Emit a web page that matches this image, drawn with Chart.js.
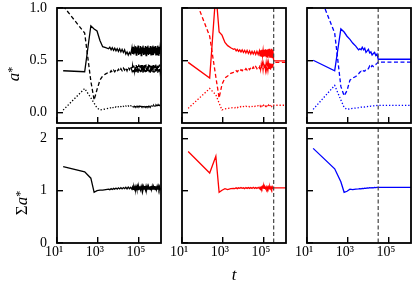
<!DOCTYPE html>
<html>
<head>
<meta charset="utf-8">
<script src="https://cdn.jsdelivr.net/npm/chart.js@4.4.0/dist/chart.umd.min.js"></script>
<style>
  html, body { margin: 0; padding: 0; background: #fff; }
  #fig { position: relative; width: 415px; height: 295px; }
  #fig canvas { position: absolute; left: 0; top: 0; }
</style>
</head>
<body>
<div id="fig">
  <canvas id="p0" width="415" height="295"></canvas>
  <canvas id="p1" width="415" height="295"></canvas>
  <canvas id="p2" width="415" height="295"></canvas>
  <canvas id="p3" width="415" height="295"></canvas>
  <canvas id="p4" width="415" height="295"></canvas>
  <canvas id="p5" width="415" height="295"></canvas>
</div>
<script>
// time axis (log) ticks
const xTickVals = [10, 1000, 100000];
const xTickLabels = ['10¹', '10³', '10⁵'];
const xMin = 10, xMax = 1200000;

// y ticks: top row a*, bottom row Σa*
const yTickVals = [[0, 0.5, 1.0], [0, 1, 2]];
const yTickLabels = [['0.0', '0.5', '1.0'], ['0', '1', '2']];
const yRange = [[-0.1, 1.0], [0, 2.2]];

// where the red / blue runs are frozen
const cutT = [null, 300000, 30000];

// black run
const tBlack = [20, 225, 450, 650, 900, 1250, 1700, 2400, 3300,
  3800, 4400, 5000, 5800, 6600, 7600, 8700, 10000, 11500, 13200, 15100, 17400, 20000,
  22900, 26300, 30200, 34700, 39800,
  45700, 49000, 52500, 56200, 60300, 64600, 69200, 74100,
  79400, 85100, 91200, 97700, 105000, 112000, 120000, 129000,
  138000, 148000, 158000, 170000, 182000, 195000, 209000, 224000,
  240000, 257000, 275000, 295000, 316000, 339000, 363000, 389000,
  417000, 447000, 479000, 513000, 550000, 589000, 631000, 676000,
  724000, 776000, 832000, 891000, 955000, 1020000, 1100000, 1200000];
const blackSolid = [0.40, 0.39, 0.83, 0.80, 0.78, 0.69, 0.63, 0.62, 0.61,
  0.625, 0.60, 0.62, 0.595, 0.615, 0.59, 0.61, 0.585, 0.61, 0.58, 0.605, 0.575, 0.60,
  0.56, 0.58, 0.55, 0.575, 0.555,
  0.62, 0.56, 0.63, 0.555, 0.61, 0.57, 0.635, 0.55,
  0.625, 0.565, 0.64, 0.55, 0.615, 0.56, 0.635, 0.545,
  0.625, 0.57, 0.64, 0.55, 0.62, 0.555, 0.635, 0.545,
  0.63, 0.565, 0.64, 0.55, 0.62, 0.56, 0.635, 0.545,
  0.625, 0.555, 0.64, 0.55, 0.63, 0.565, 0.635, 0.545,
  0.62, 0.555, 0.64, 0.55, 0.63, 0.56, 0.635, 0.60];
const blackDashed = [1.02, 0.76, 0.30, 0.12, 0.22, 0.31, 0.35, 0.37, 0.385,
  0.38, 0.40, 0.385, 0.405, 0.39, 0.41, 0.395, 0.415, 0.395, 0.42, 0.40, 0.425, 0.405,
  0.43, 0.40, 0.435, 0.41, 0.44,
  0.40, 0.445, 0.385, 0.45, 0.395, 0.44, 0.38, 0.455,
  0.39, 0.445, 0.38, 0.46, 0.395, 0.45, 0.385, 0.455,
  0.39, 0.46, 0.38, 0.45, 0.39, 0.455, 0.385, 0.46,
  0.38, 0.45, 0.39, 0.46, 0.385, 0.455, 0.38, 0.45,
  0.39, 0.46, 0.385, 0.455, 0.38, 0.45, 0.39, 0.46,
  0.385, 0.455, 0.38, 0.45, 0.39, 0.46, 0.385, 0.42];
const blackDotted = [0.024, 0.23, 0.14, 0.09, 0.045, 0.025, 0.03, 0.035, 0.04,
  0.04, 0.05, 0.042, 0.052, 0.045, 0.054, 0.047, 0.056, 0.049, 0.058, 0.05, 0.06, 0.052,
  0.062, 0.053, 0.063, 0.054, 0.064,
  0.058, 0.066, 0.055, 0.068, 0.057, 0.07, 0.054, 0.067,
  0.056, 0.069, 0.054, 0.07, 0.057, 0.068, 0.053, 0.07,
  0.055, 0.069, 0.054, 0.071, 0.056, 0.068, 0.054, 0.07,
  0.055, 0.069, 0.053, 0.07, 0.056, 0.068, 0.054, 0.071,
  0.055, 0.069, 0.054, 0.07, 0.056, 0.068, 0.053, 0.07,
  0.055, 0.069, 0.054, 0.071, 0.056, 0.068, 0.055, 0.062];
const blackSum = [1.46, 1.36, 1.24, 0.97, 1.00, 1.01, 1.01, 1.02, 1.03,
  1.02, 1.04, 1.025, 1.045, 1.03, 1.05, 1.03, 1.055, 1.035, 1.06, 1.035, 1.06, 1.04,
  1.065, 1.035, 1.07, 1.04, 1.065,
  1.03, 1.07, 1.025, 1.075, 1.03, 1.08, 1.02, 1.075,
  1.025, 1.085, 1.02, 1.08, 1.03, 1.085, 1.02, 1.08,
  1.025, 1.085, 1.02, 1.08, 1.03, 1.09, 1.02, 1.085,
  1.025, 1.08, 1.02, 1.085, 1.03, 1.08, 1.02, 1.09,
  1.025, 1.085, 1.02, 1.08, 1.03, 1.09, 1.02, 1.085,
  1.025, 1.08, 1.02, 1.085, 1.03, 1.08, 1.025, 1.05];

// red run
const tRed = [20, 225, 450, 650, 900, 1250, 1700, 2400, 3300,
  3800, 4400, 5000, 5800, 6600, 7600, 8700, 10000, 11500, 13200, 15100, 17400, 20000, 22900, 26300, 30200, 34700, 39800, 45700, 52500,
  60300, 64600, 69200, 74100, 79400, 85100, 91200, 97700,
  105000, 112000, 120000, 129000, 138000, 148000, 158000, 170000,
  182000, 195000, 209000, 224000, 240000, 257000, 275000,
  300000, 1200000];
const redSolid = [0.48, 0.33, 1.15, 0.77, 0.74, 0.67, 0.64, 0.62, 0.605,
  0.61, 0.59, 0.605, 0.585, 0.60, 0.58, 0.60, 0.575, 0.595, 0.57, 0.595, 0.565, 0.59, 0.56, 0.585, 0.56, 0.585, 0.555, 0.585, 0.555,
  0.59, 0.545, 0.595, 0.54, 0.60, 0.545, 0.595, 0.535,
  0.60, 0.54, 0.605, 0.535, 0.60, 0.53, 0.605, 0.54,
  0.61, 0.525, 0.60, 0.53, 0.61, 0.525, 0.60,
  0.495, 0.495];
const redDashed = [1.26, 0.73, 0.34, 0.14, 0.27, 0.33, 0.35, 0.375, 0.385,
  0.385, 0.40, 0.39, 0.405, 0.395, 0.41, 0.40, 0.415, 0.405, 0.42, 0.405, 0.425, 0.41, 0.43, 0.415, 0.435, 0.415, 0.44, 0.42, 0.44,
  0.425, 0.455, 0.415, 0.46, 0.42, 0.465, 0.41, 0.46,
  0.415, 0.465, 0.41, 0.47, 0.415, 0.465, 0.41, 0.47,
  0.415, 0.475, 0.41, 0.47, 0.415, 0.475, 0.45,
  0.48, 0.48];
const redDotted = [0.04, 0.23, 0.17, 0.09, 0.025, 0.035, 0.04, 0.045, 0.048,
  0.045, 0.053, 0.047, 0.055, 0.05, 0.057, 0.052, 0.058, 0.053, 0.06, 0.055, 0.061, 0.056, 0.062, 0.057, 0.063, 0.058, 0.064, 0.059, 0.065,
  0.06, 0.067, 0.058, 0.068, 0.06, 0.069, 0.059, 0.07,
  0.061, 0.069, 0.06, 0.071, 0.06, 0.07, 0.061, 0.071,
  0.06, 0.072, 0.061, 0.071, 0.06, 0.072, 0.066,
  0.07, 0.07];
const redSum = [1.75, 1.34, 1.66, 0.97, 1.01, 1.04, 1.02, 1.04, 1.045,
  1.04, 1.055, 1.04, 1.055, 1.045, 1.06, 1.045, 1.055, 1.04, 1.06, 1.045, 1.06, 1.045, 1.06, 1.045, 1.065, 1.045, 1.06, 1.045, 1.065,
  1.04, 1.065, 1.045, 1.07, 1.04, 1.08, 1.05, 1.09,
  1.045, 1.07, 1.04, 1.075, 1.035, 1.07, 1.04, 1.075,
  1.035, 1.08, 1.04, 1.07, 1.035, 1.075, 1.05,
  1.055, 1.055];

// blue run
const tBlue = [20, 225, 450, 650, 900, 1250, 1700, 2400, 3300,
  3800, 4400, 5000, 5800, 6600, 7600, 8700, 10000, 11500, 13200, 15100, 17400, 20000, 22900, 26300,
  30000, 1200000];
const blueSolid = [0.50, 0.40, 0.80, 0.77, 0.73, 0.70, 0.665, 0.635, 0.60,
  0.61, 0.60, 0.625, 0.60, 0.615, 0.575, 0.59, 0.605, 0.57, 0.58, 0.55, 0.565, 0.575, 0.545, 0.56,
  0.51, 0.51];
const blueDashed = [1.28, 0.76, 0.25, 0.16, 0.21, 0.31, 0.33, 0.345, 0.37,
  0.385, 0.395, 0.385, 0.40, 0.395, 0.415, 0.41, 0.42, 0.445, 0.43, 0.45, 0.44, 0.455, 0.46, 0.47,
  0.483, 0.483];
const blueDotted = [0.03, 0.26, 0.12, 0.05, 0.03, 0.035, 0.04, 0.043, 0.047,
  0.05, 0.052, 0.05, 0.055, 0.053, 0.057, 0.056, 0.06, 0.058, 0.062, 0.061, 0.064, 0.063, 0.066, 0.068,
  0.069, 0.069];
const blueSum = [1.81, 1.42, 1.17, 0.97, 0.99, 1.03, 1.02, 1.03, 1.035,
  1.04, 1.035, 1.045, 1.04, 1.05, 1.045, 1.055, 1.05, 1.06, 1.055, 1.06, 1.055, 1.065, 1.06, 1.065,
  1.065, 1.065];

// layout of the 2x3 grid (page pixels)
const figW = 415, figH = 295;
const colLeft = [57, 182, 307], plotW = 104;
const rowTop = [8, 128], plotH = 115;
const serif = '"Liberation Serif", "DejaVu Serif", serif';
const dashes = [[], [4, 2.5], [1.3, 1.9]];

const yLabels = [
  { x: 19, y: 74, parts: [
    { text: 'a', font: 'italic 17px ' + serif },
    { text: '*', font: '12px ' + serif, rise: 3 }] },
  { x: 27, y: 203, parts: [
    { text: 'Σ', font: '17px ' + serif },
    { text: 'a', font: 'italic 17px ' + serif },
    { text: '*', font: '12px ' + serif, rise: 3 }] }
];

const framePlugin = {
  id: 'frame',
  afterDraw(chart) {
    const { ctx, chartArea: a } = chart;
    ctx.save();
    ctx.strokeStyle = '#000';
    ctx.lineWidth = 1.8;
    ctx.strokeRect(a.left, a.top, a.right - a.left, a.bottom - a.top);
    ctx.restore();
  }
};

function cutLine(t) {
  return {
    id: 'cutLine',
    afterDatasetsDraw(chart) {
      if (!t) return;
      const { ctx, chartArea: a } = chart;
      const x = chart.scales.x.getPixelForValue(t);
      ctx.save();
      ctx.strokeStyle = '#444';
      ctx.lineWidth = 1.2;
      ctx.setLineDash([4, 2.5]);
      ctx.beginPath();
      ctx.moveTo(x, a.top);
      ctx.lineTo(x, a.bottom);
      ctx.stroke();
      ctx.restore();
    }
  };
}

function axisLabel(lab) {
  return {
    id: 'axisLabel',
    afterDraw(chart) {
      if (!lab) return;
      const ctx = chart.ctx;
      ctx.save();
      ctx.translate(lab.x, lab.y);
      ctx.rotate(-Math.PI / 2);
      ctx.fillStyle = '#000';
      ctx.textBaseline = 'alphabetic';
      let w = 0;
      lab.parts.forEach(p => { ctx.font = p.font; w += ctx.measureText(p.text).width; });
      let x = -w / 2;
      lab.parts.forEach(p => {
        ctx.font = p.font;
        ctx.fillText(p.text, x, -(p.rise || 0));
        x += ctx.measureText(p.text).width;
      });
      ctx.restore();
    }
  };
}

// no automatic label padding, the grid is fixed
function noPad(s) {
  s.paddingLeft = 0; s.paddingRight = 0; s.paddingTop = 0; s.paddingBottom = 0;
}

const panels = [
  { id: 'p0', row: 0, col: 0, t: tBlack, color: '#000000', series: [blackSolid, blackDashed, blackDotted] },
  { id: 'p1', row: 0, col: 1, t: tRed, color: '#ff0000', series: [redSolid, redDashed, redDotted] },
  { id: 'p2', row: 0, col: 2, t: tBlue, color: '#0000ff', series: [blueSolid, blueDashed, blueDotted] },
  { id: 'p3', row: 1, col: 0, t: tBlack, color: '#000000', series: [blackSum] },
  { id: 'p4', row: 1, col: 1, t: tRed, color: '#ff0000', series: [redSum] },
  { id: 'p5', row: 1, col: 2, t: tBlue, color: '#0000ff', series: [blueSum] }
];

panels.forEach(p => {
  const left = colLeft[p.col], top = rowTop[p.row];
  const bottomRow = p.row === 1;
  const xAxisH = bottomRow ? figH - (top + plotH) : 0;
  const yAxisW = p.col === 0 ? left : 0;

  new Chart(document.getElementById(p.id), {
    type: 'line',
    data: {
      datasets: p.series.map((vals, i) => ({
        data: vals.map((y, k) => ({ x: p.t[k], y })),
        borderColor: p.color,
        borderWidth: 1.3,
        borderDash: dashes[i],
        pointRadius: 0,
        tension: 0,
        fill: false
      }))
    },
    options: {
      responsive: false,
      animation: false,
      events: [],
      layout: { padding: {
        left: left - yAxisW, top,
        right: figW - left - plotW,
        bottom: figH - top - plotH - xAxisH } },
      plugins: { legend: { display: false }, tooltip: { enabled: false } },
      scales: {
        x: {
          type: 'logarithmic', min: xMin, max: xMax, bounds: 'data',
          afterBuildTicks: s => { s.ticks = xTickVals.map(value => ({ value })); },
          afterFit: s => { s.height = xAxisH; noPad(s); },
          ticks: {
            display: bottomRow, autoSkip: false, maxRotation: 0, padding: 7, labelOffset: -3,
            color: '#000', font: { family: serif, size: 14 },
            callback: (v, i) => xTickLabels[i]
          },
          grid: { drawOnChartArea: false, tickLength: -6, color: '#000', lineWidth: 1.4 },
          border: { display: false },
          title: {
            display: bottomRow && p.col === 1, text: 't', color: '#000',
            font: { family: serif, size: 17, style: 'italic' },
            padding: { top: 0, bottom: 9.5 }
          }
        },
        y: {
          min: yRange[p.row][0], max: yRange[p.row][1], bounds: 'data',
          afterBuildTicks: s => { s.ticks = yTickVals[p.row].map(value => ({ value })); },
          afterFit: s => { s.width = yAxisW; noPad(s); },
          ticks: {
            display: p.col === 0, padding: 16, color: '#000',
            font: { family: serif, size: 14 },
            callback: (v, i) => yTickLabels[p.row][i]
          },
          grid: { drawOnChartArea: false, tickLength: -6, color: '#000', lineWidth: 1.4 },
          border: { display: false }
        }
      }
    },
    plugins: [framePlugin, cutLine(cutT[p.col]), axisLabel(p.col === 0 ? yLabels[p.row] : null)]
  });
});
</script>
</body>
</html>
